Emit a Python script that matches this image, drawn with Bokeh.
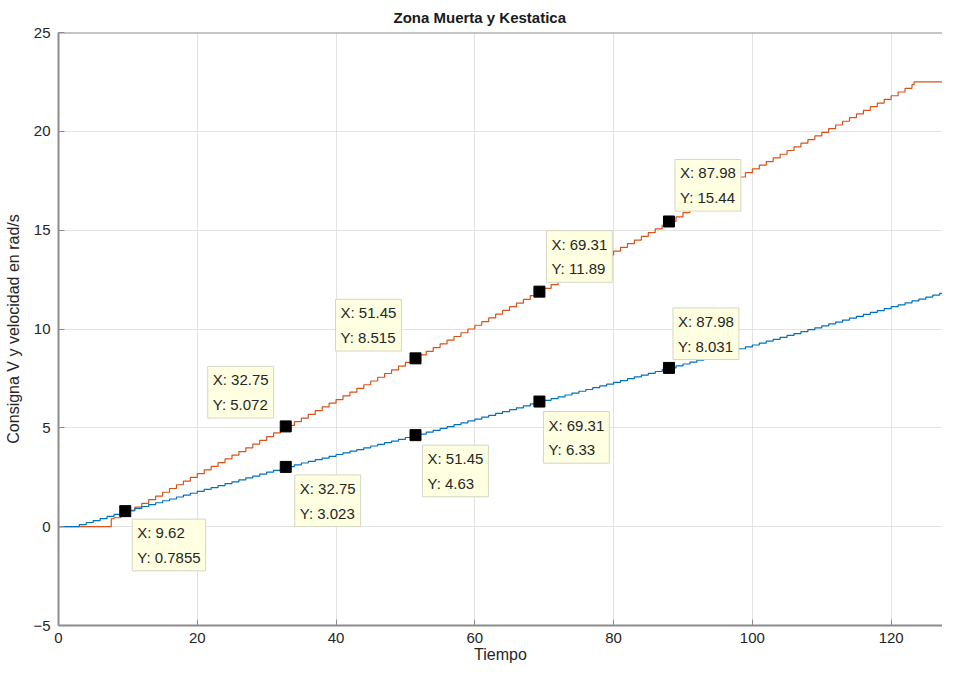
from bokeh.plotting import figure
from bokeh.models import Label, FixedTicker, Range1d, ColumnDataSource, Span
from bokeh.embed import file_html
from bokeh.resources import INLINE

# --- data ---
t_ref = [0, 7.4, 7.6, 8, 9, 10, 11, 12, 13, 14, 15, 16, 17, 18, 19, 20, 21, 22, 23, 24, 25,
         26, 27, 28, 29, 30, 31, 32, 33, 34, 35, 36, 37, 38, 39, 40, 41, 42, 43, 44, 45, 46,
         47, 48, 49, 50, 51, 52, 53, 54, 55, 56, 57, 58, 59, 60, 61, 62, 63, 64, 65, 66, 67,
         68, 69, 70, 71, 72, 73, 74, 75, 76, 77, 78, 79, 80, 81, 82, 83, 84, 85, 86, 87, 88,
         89, 90, 91, 92, 93, 94, 95, 96, 97, 98, 99, 100, 101, 102, 103, 104, 105, 106, 107,
         108, 109, 110, 111, 112, 113, 114, 115, 116, 117, 118, 119, 120, 121, 122, 123,
         123.3, 128.5]
v_ref = [0.0, 0.0, 0.40, 0.45, 0.61, 0.80, 0.99, 1.18, 1.37, 1.55, 1.74, 1.93, 2.12, 2.30,
         2.49, 2.68, 2.87, 3.05, 3.24, 3.43, 3.62, 3.80, 3.99, 4.18, 4.37, 4.56, 4.74, 4.93,
         5.12, 5.31, 5.49, 5.68, 5.87, 6.06, 6.25, 6.43, 6.62, 6.81, 7.00, 7.18, 7.37, 7.56,
         7.75, 7.93, 8.12, 8.31, 8.50, 8.69, 8.87, 9.06, 9.25, 9.44, 9.62, 9.81, 10.00, 10.19,
         10.37, 10.56, 10.75, 10.94, 11.13, 11.31, 11.50, 11.69, 11.88, 12.06, 12.25, 12.44,
         12.63, 12.81, 13.00, 13.19, 13.38, 13.57, 13.75, 13.94, 14.13, 14.32, 14.50, 14.69,
         14.88, 15.07, 15.25, 15.44, 15.67, 15.89, 16.12, 16.34, 16.57, 16.79, 17.02, 17.24,
         17.47, 17.69, 17.91, 18.10, 18.29, 18.47, 18.66, 18.84, 19.03, 19.21, 19.40, 19.58,
         19.77, 19.95, 20.14, 20.32, 20.51, 20.69, 20.88, 21.06, 21.25, 21.43, 21.62, 21.80,
         21.99, 22.17, 22.36, 22.50, 22.50]

t_vel = [0, 2, 3, 4, 5, 6, 7, 8, 9, 10, 11, 12, 13, 14, 15, 16, 17, 18, 19, 20, 21, 22, 23,
         24, 25, 26, 27, 28, 29, 30, 31, 32, 33, 34, 35, 36, 37, 38, 39, 40, 41, 42, 43, 44,
         45, 46, 47, 48, 49, 50, 51, 52, 53, 54, 55, 56, 57, 58, 59, 60, 61, 62, 63, 64, 65,
         66, 67, 68, 69, 70, 71, 72, 73, 74, 75, 76, 77, 78, 79, 80, 81, 82, 83, 84, 85, 86,
         87, 88, 89, 90, 91, 92, 93, 94, 95, 96, 97, 98, 99, 100, 101, 102, 103, 104, 105,
         106, 107, 108, 109, 110, 111, 112, 113, 114, 115, 116, 117, 118, 119, 120, 121, 122,
         123, 124, 125, 126, 127, 128, 128.5]
w_vel = [0.0, 0.0, 0.10, 0.21, 0.31, 0.41, 0.52, 0.62, 0.73, 0.83, 0.92, 1.02, 1.12, 1.21,
         1.31, 1.40, 1.50, 1.60, 1.69, 1.79, 1.89, 1.98, 2.08, 2.18, 2.27, 2.37, 2.47, 2.56,
         2.66, 2.76, 2.85, 2.95, 3.04, 3.13, 3.22, 3.30, 3.39, 3.47, 3.56, 3.65, 3.73, 3.82,
         3.90, 3.99, 4.08, 4.16, 4.25, 4.33, 4.42, 4.51, 4.59, 4.68, 4.78, 4.87, 4.97, 5.06,
         5.16, 5.25, 5.35, 5.44, 5.54, 5.63, 5.73, 5.82, 5.92, 6.01, 6.11, 6.21, 6.30, 6.39,
         6.48, 6.57, 6.66, 6.76, 6.85, 6.94, 7.03, 7.12, 7.21, 7.30, 7.39, 7.49, 7.58, 7.67,
         7.76, 7.85, 7.94, 8.03, 8.13, 8.23, 8.32, 8.42, 8.52, 8.61, 8.71, 8.81, 8.90, 9.00,
         9.10, 9.19, 9.29, 9.39, 9.48, 9.58, 9.68, 9.77, 9.87, 9.97, 10.06, 10.16, 10.26,
         10.35, 10.45, 10.55, 10.64, 10.74, 10.84, 10.93, 11.03, 11.13, 11.22, 11.32, 11.42,
         11.51, 11.61, 11.71, 11.80, 11.90, 11.95]

# data tips
tip_x = [9.62, 32.75, 32.75, 51.45, 51.45, 69.31, 69.31, 87.98, 87.98]
tip_y = [0.7855, 5.072, 3.023, 8.515, 4.63, 11.89, 6.33, 15.44, 8.031]
tip_xlabel = ["9.62", "32.75", "32.75", "51.45", "51.45", "69.31", "69.31", "87.98", "87.98"]
tip_ylabel = ["0.7855", "5.072", "3.023", "8.515", "4.63", "11.89", "6.33", "15.44", "8.031"]

x_ticks = [0, 20, 40, 60, 80, 100, 120]
y_ticks = [-5, 0, 5, 10, 15, 20, 25]

# --- layout / style ---
FONT = "Liberation Sans"
AX = "#8c8c8c"
BLUE = "#0072BD"
RED = "#D95319"

p = figure(width=942, height=665, output_backend="svg", toolbar_location=None,
           x_range=Range1d(0, 127.4), y_range=Range1d(-5, 25),
           min_border_left=58, min_border_right=0, min_border_bottom=0, min_border_top=32)
p.outline_line_color = None
p.background_fill_color = "white"
p.border_fill_color = "white"

p.title.text = "Zona Muerta y Kestatica"
p.title.text_font = FONT
p.title.text_font_size = "15px"
p.title.text_font_style = "bold"
p.title.text_color = "#1a1a1a"
p.title.align = "left"
p.title.vertical_align = "top"
p.title.offset = 335
p.title.standoff = 9

for ax in (p.xaxis[0], p.yaxis[0]):
    ax.axis_line_color = AX
    ax.axis_line_width = 2
    ax.major_tick_line_color = AX
    ax.major_tick_in = 6
    ax.major_tick_out = 0
    ax.minor_tick_line_color = None
    ax.major_label_text_font = FONT
    ax.major_label_text_font_size = "15px"
    ax.major_label_text_color = "#262626"
    ax.axis_label_text_font = FONT
    ax.axis_label_text_font_size = "16px"
    ax.axis_label_text_font_style = "normal"
    ax.axis_label_text_color = "#262626"

p.xaxis.ticker = FixedTicker(ticks=x_ticks)
p.yaxis.ticker = FixedTicker(ticks=y_ticks)
p.xaxis.axis_label = "Tiempo"
p.yaxis.axis_label = "Consigna V y velocidad en rad/s"
p.xaxis.major_label_standoff = 7
p.yaxis.major_label_standoff = 8
p.xaxis.axis_label_standoff = 0
p.yaxis.axis_label_standoff = 8

# top border of the axes box
p.add_layout(Span(location=25, dimension="width", line_color=AX, line_width=2))

p.xgrid.grid_line_color = "#e3e3e3"
p.ygrid.grid_line_color = "#e3e3e3"
p.xgrid.ticker = FixedTicker(ticks=x_ticks)
p.ygrid.ticker = FixedTicker(ticks=y_ticks)

p.step(t_ref, v_ref, mode="after", line_color=RED, line_width=1.2)
p.step(t_vel, w_vel, mode="after", line_color=BLUE, line_width=1.2)

src = ColumnDataSource(dict(x=tip_x, y=tip_y))
p.scatter("x", "y", source=src, marker="square", size=11, fill_color="black", line_color="black")

# label offsets (pixels) from the marker to box top-left
offs = [(7, -8), (-78, 60), (9, -8), (-80, 59), (7, -10), (7, 61), (4, -10), (6, 62), (4, 60)]
for xi, yi, xl, yl, (dx, dy) in zip(tip_x, tip_y, tip_xlabel, tip_ylabel, offs):
    lab = Label(x=xi, y=yi, x_offset=dx, y_offset=dy,
                text="X: " + xl + "\nY: " + yl,
                text_font=FONT, text_font_size="15px", text_color="#262626",
                text_align="left", text_baseline="top", text_line_height=1.45,
                background_fill_color="#FFFFE1", background_fill_alpha=1.0,
                border_line_color="#d6d6c4", border_line_width=1, padding=5)
    p.add_layout(lab)

open("out.html", "w").write(file_html(p, INLINE))
